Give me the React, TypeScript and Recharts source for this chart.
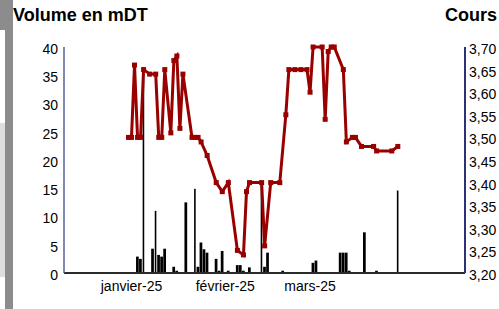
import { Bar, ComposedChart, Line, XAxis, YAxis } from "recharts";

// cours de clôture (DT)
const priceDates = [
  "2024-12-31", "2025-01-01", "2025-01-02", "2025-01-03", "2025-01-04", "2025-01-05",
  "2025-01-07", "2025-01-09", "2025-01-10", "2025-01-11", "2025-01-12", "2025-01-14",
  "2025-01-15", "2025-01-16", "2025-01-17", "2025-01-18", "2025-01-21", "2025-01-22",
  "2025-01-23", "2025-01-24", "2025-01-26", "2025-01-29", "2025-01-31", "2025-02-02",
  "2025-02-05", "2025-02-07", "2025-02-08", "2025-02-09", "2025-02-13", "2025-02-14",
  "2025-02-16", "2025-02-19", "2025-02-21", "2025-02-22", "2025-02-24", "2025-02-26",
  "2025-02-28", "2025-03-01", "2025-03-02", "2025-03-05", "2025-03-06", "2025-03-07",
  "2025-03-08", "2025-03-09", "2025-03-12", "2025-03-13", "2025-03-15", "2025-03-16",
  "2025-03-18", "2025-03-22", "2025-03-23", "2025-03-28", "2025-03-30",
];
const priceValues = [
  3.5, 3.5, 3.66, 3.5, 3.5, 3.65,
  3.64, 3.64, 3.5, 3.5, 3.65, 3.51,
  3.67, 3.68, 3.52, 3.64, 3.5, 3.5,
  3.5, 3.49, 3.46, 3.4, 3.38, 3.4,
  3.25, 3.24, 3.38, 3.4, 3.4, 3.26,
  3.4, 3.4, 3.55, 3.65, 3.65, 3.65,
  3.65, 3.6, 3.7, 3.7, 3.54, 3.69,
  3.7, 3.7, 3.65, 3.49, 3.5, 3.5,
  3.48, 3.48, 3.47, 3.47, 3.48,
];

// volume échangé (mDT)
const volumeDates = [
  "2025-01-01", "2025-01-03", "2025-01-04", "2025-01-08", "2025-01-10", "2025-01-11",
  "2025-01-12", "2025-01-15", "2025-01-16", "2025-01-19", "2025-01-23", "2025-01-24",
  "2025-01-25", "2025-01-26", "2025-01-29", "2025-01-30", "2025-01-31", "2025-02-02",
  "2025-02-05", "2025-02-06", "2025-02-07", "2025-02-09", "2025-02-14", "2025-02-15",
  "2025-02-20", "2025-02-21", "2025-03-02", "2025-03-03", "2025-03-11", "2025-03-12",
  "2025-03-13", "2025-03-14", "2025-03-19", "2025-03-23",
];
const volumeValues = [
  0.1, 2.9, 2.5, 4.3, 3.2, 2.9,
  4.3, 1.1, 0.4, 12.5, 1.1, 5.4,
  4.2, 3.6, 2.5, 0.4, 3.9, 0.4,
  1.4, 1.4, 0.4, 1.0, 1.1, 3.6,
  0.4, 0.1, 1.8, 2.2, 3.6, 3.6,
  3.6, 0.4, 7.2, 0.4,
];

// transactions de bloc
const blockDates = ["2025-01-05", "2025-01-09", "2025-01-22", "2025-02-13", "2025-03-30"];
const blockValues = [35.6, 11, 14.9, 15.5, 14.6];

const monthTicks = ["2025-01-01", "2025-02-01", "2025-03-01"];
const monthLabels = ["janvier-25", "février-25", "mars-25"];
const volumeTicks = [0, 5, 10, 15, 20, 25, 30, 35, 40];
const priceTicks = [3.2, 3.25, 3.3, 3.35, 3.4, 3.45, 3.5, 3.55, 3.6, 3.65, 3.7];

const ORIGIN = Date.parse("2025-01-01");
const toDay = (s: string) => Math.round((Date.parse(s) - ORIGIN) / 86400000);

type Row = { day: number; price?: number; volume?: number; block?: number };

const rowsByDay = new Map<number, Row>();
const getRow = (d: string) => {
  const day = toDay(d);
  if (!rowsByDay.has(day)) rowsByDay.set(day, { day });
  return rowsByDay.get(day)!;
};
priceDates.forEach((d, i) => (getRow(d).price = priceValues[i]));
volumeDates.forEach((d, i) => (getRow(d).volume = volumeValues[i]));
blockDates.forEach((d, i) => (getRow(d).block = blockValues[i]));
const data = [...rowsByDay.values()].sort((a, b) => a.day - b.day);

const tickDays = monthTicks.map(toDay);
const RED = "#990000";
const FONT = "'Liberation Sans', Arial, sans-serif";

const SquareDot = (props: any) => {
  const { cx, cy, payload } = props;
  if (payload?.price == null || cx == null || cy == null) return null;
  return <rect x={cx - 2.5} y={cy - 2.5} width={5} height={5} fill={RED} />;
};

const ThinBar = (props: any) => {
  const { x, y, width, height } = props;
  if (!height) return null;
  return <rect x={x + width / 2 - 0.8} y={y} width={1.6} height={height} fill="#000" />;
};

export default function App() {
  return (
    <div
      style={{
        position: "absolute",
        left: 0,
        top: 0,
        width: 499,
        height: 309,
        background: "#fff",
        fontFamily: FONT,
        overflow: "hidden",
      }}
    >
      <div style={{ position: "absolute", left: 0, top: 0, width: 13, height: 30, background: "#8c8c8c" }} />
      <div style={{ position: "absolute", left: 5, top: 0, width: 8, height: 309, background: "#8c8c8c" }} />
      <div style={{ position: "absolute", left: 0, top: 123, width: 5, height: 154, background: "#dedede" }} />
      <div style={{ position: "absolute", left: 13, top: 5, fontSize: 18, fontWeight: "bold", color: "#000" }}>
        Volume en mDT
      </div>
      <div style={{ position: "absolute", right: 2, top: 5, fontSize: 18, fontWeight: "bold", color: "#000" }}>
        Cours
      </div>
      <ComposedChart
        width={499}
        height={309}
        data={data}
        margin={{ top: 47, right: 0, bottom: 6, left: 0 }}
        style={{ position: "absolute", left: 0, top: 0 }}
      >
        <XAxis
          dataKey="day"
          type="number"
          domain={[-22.3, 110.2]}
          allowDataOverflow
          ticks={tickDays}
          tickFormatter={(v) => monthLabels[tickDays.indexOf(v)] ?? ""}
          height={30}
          tickLine={false}
          tickSize={0}
          tickMargin={8}
          axisLine={{ stroke: "#2b2b2b", strokeWidth: 2 }}
          tick={{ fill: "#000", fontSize: 14, fontFamily: FONT }}
        />
        <YAxis
          yAxisId="vol"
          orientation="left"
          width={64}
          domain={[0, 40]}
          ticks={volumeTicks}
          interval={0}
          tickLine={false}
          tickSize={0}
          tickMargin={6}
          axisLine={{ stroke: "#5a5f9e", strokeWidth: 1.5 }}
          tick={{ fill: "#000", fontSize: 14, fontFamily: FONT, dy: 2 }}
        />
        <YAxis
          yAxisId="price"
          orientation="right"
          width={34}
          domain={[3.2, 3.7]}
          ticks={priceTicks}
          interval={0}
          tickFormatter={(v) => v.toFixed(2).replace(".", ",")}
          tickLine={false}
          tickSize={0}
          tickMargin={4}
          axisLine={{ stroke: "#2d3272", strokeWidth: 2 }}
          tick={{ fill: "#000", fontSize: 14, fontFamily: FONT, dy: 2 }}
        />
        <Bar yAxisId="vol" dataKey="volume" stackId="v" barSize={3.4} fill="#000" isAnimationActive={false} />
        <Bar
          yAxisId="vol"
          dataKey="block"
          stackId="v"
          barSize={3.4}
          fill="#000"
          shape={ThinBar}
          isAnimationActive={false}
        />
        <Line
          yAxisId="price"
          dataKey="price"
          type="linear"
          stroke={RED}
          strokeWidth={3}
          connectNulls
          dot={SquareDot}
          activeDot={false}
          isAnimationActive={false}
        />
      </ComposedChart>
    </div>
  );
}
